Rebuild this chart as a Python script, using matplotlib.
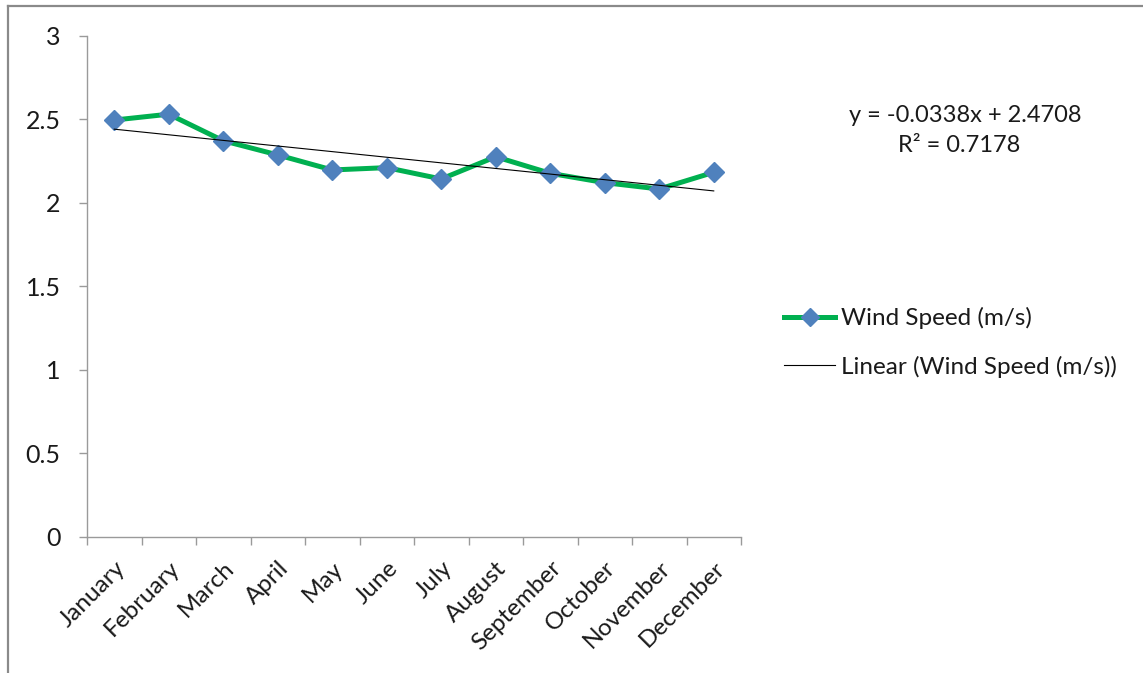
import numpy as np
import matplotlib
matplotlib.use("Agg")
import matplotlib.pyplot as plt
from matplotlib.lines import Line2D

months = ["January", "February", "March", "April", "May", "June", "July",
          "August", "September", "October", "November", "December"]
wind_speed = [2.495, 2.53, 2.371, 2.286, 2.196, 2.21, 2.142, 2.275, 2.176,
              2.12, 2.082, 2.182]
series_label = "Wind Speed (m/s)"
trend_label = "Linear (Wind Speed (m/s))"
equation_text = "y = -0.0338x + 2.4708"
r2_text = "R\u00b2 = 0.7178"

plt.rcParams["font.family"] = ["Lato", "DejaVu Sans"]
W, H = 1143, 673
fig = plt.figure(figsize=(W / 100, H / 100), dpi=100)

# chart-area frame (top and left edges visible)
frame_color = "#8a8a8a"
fig.add_artist(Line2D([8 / W, 1.0], [1 - 6 / H, 1 - 6 / H], color=frame_color, lw=1.6))
fig.add_artist(Line2D([8 / W, 8 / W], [0.0, 1 - 6 / H], color=frame_color, lw=1.6))

ax = fig.add_axes([87 / W, (H - 536.7) / H, (741 - 87) / W, (536.7 - 35.7) / H])

x = np.arange(1, len(months) + 1)
y = np.array(wind_speed)

ax.plot(x, y, color="#00B050", lw=3.6, marker="D", markersize=10,
        markerfacecolor="#4F81BD", markeredgecolor="#4F81BD", zorder=3,
        solid_capstyle="round")

slope, intercept = np.polyfit(x, y, 1)
ax.plot(x, slope * x + intercept, color="black", lw=0.8, zorder=4)

ax.set_xlim(0.5, len(months) + 0.5)
ax.set_ylim(0, 3)
ax.set_yticks(np.arange(0, 3.01, 0.5))
ax.set_yticklabels(["0", "0.5", "1", "1.5", "2", "2.5", "3"])

# category boundaries carry the tick marks; labels sit at category centers
ax.set_xticks(np.arange(0.5, len(months) + 1, 1.0))
ax.set_xticklabels([])
ax.set_xticks(x, minor=True)
ax.set_xticklabels(months, minor=True, rotation=45, ha="right",
                   rotation_mode="anchor")
ax.tick_params(axis="x", which="minor", length=0, pad=15, labelsize=17.5,
               labelcolor="#1a1a1a")
ax.tick_params(axis="x", which="major", length=6, color="#9a9a9a", width=1)
ax.tick_params(axis="y", length=6, color="#9a9a9a", width=1, pad=13,
               labelsize=18, labelcolor="#1a1a1a")

for side in ("top", "right"):
    ax.spines[side].set_visible(False)
for side in ("left", "bottom"):
    ax.spines[side].set_color("#9a9a9a")
    ax.spines[side].set_linewidth(1)

fig.text(965 / W, 1 - 115 / H, equation_text, ha="center", va="center",
         fontsize=17, color="#1a1a1a")
fig.text(959 / W, 1 - 146 / H, r2_text, ha="center", va="center",
         fontsize=17, color="#1a1a1a")

handles = [
    Line2D([], [], color="#00B050", lw=3.6, marker="D", markersize=9,
           markerfacecolor="#4F81BD", markeredgecolor="#4F81BD"),
    Line2D([], [], color="black", lw=0.8),
]
fig.legend(handles, [series_label, trend_label], loc="center left",
           bbox_to_anchor=(772 / W, 1 - 342.5 / H), frameon=False,
           fontsize=17.5, handlelength=2.1, handletextpad=0.25,
           labelspacing=1.1, borderpad=0, labelcolor="#1a1a1a")

fig.savefig("out.png", dpi=100, facecolor="white")
